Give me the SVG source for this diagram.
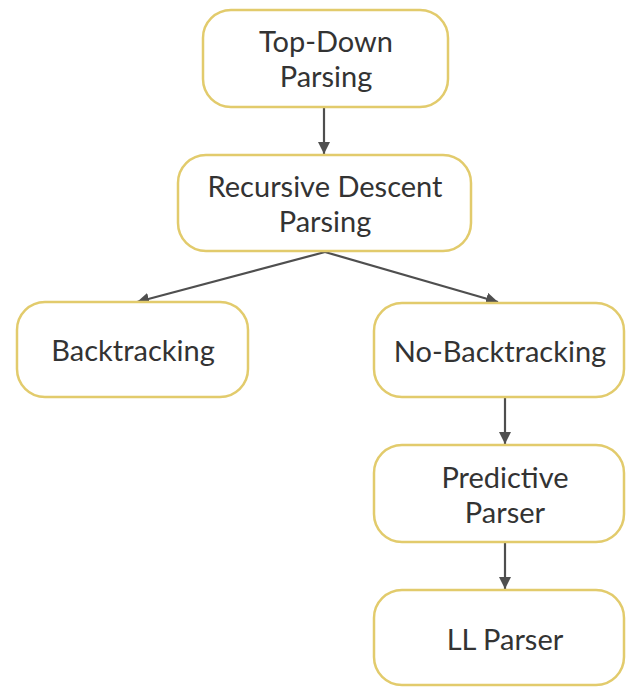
<svg xmlns="http://www.w3.org/2000/svg" width="626" height="687" viewBox="0 0 626 687">
<style>
.box{fill:#fff;stroke:#e2cb6c;stroke-width:2.5}
.lbl{font-family:Lato,"Open Sans","Liberation Sans",sans-serif;font-size:29px;fill:#333;text-anchor:middle}
.edge{stroke:#4f4f4f;stroke-width:2.2;fill:none}
</style>
<defs>
<marker id="ah" viewBox="0 0 10 10" refX="10" refY="5" markerWidth="5.5" markerHeight="5.5" orient="auto" markerUnits="strokeWidth">
<path d="M0,0 L10,5 L0,10 z" fill="#4f4f4f"/>
</marker>
</defs>
<rect width="626" height="687" fill="#fff"/>
<g id="connectors">
<line class="edge" x1="324" y1="107" x2="324" y2="154" marker-end="url(#ah)"/>
<line class="edge" x1="325" y1="252" x2="137" y2="302" marker-end="url(#ah)"/>
<line class="edge" x1="325" y1="252" x2="498" y2="302" marker-end="url(#ah)"/>
<line class="edge" x1="505" y1="397" x2="505" y2="444" marker-end="url(#ah)"/>
<line class="edge" x1="505" y1="542" x2="505" y2="589" marker-end="url(#ah)"/>
</g>
<g id="topdown">
<rect class="box" x="203" y="10" width="245" height="97" rx="28"/>
<text class="lbl" x="326" y="52">Top-Down</text>
<text class="lbl" x="326" y="87">Parsing</text>
</g>
<g id="recursive">
<rect class="box" x="178" y="155" width="293" height="96" rx="28"/>
<text class="lbl" x="325" y="197">Recursive Descent</text>
<text class="lbl" x="325" y="232">Parsing</text>
</g>
<g id="backtracking">
<rect class="box" x="17" y="302" width="231" height="95" rx="28"/>
<text class="lbl" x="133" y="361">Backtracking</text>
</g>
<g id="nobacktracking">
<rect class="box" x="374" y="303" width="250" height="94" rx="28"/>
<text class="lbl" x="500" y="362">No-Backtracking</text>
</g>
<g id="predictive">
<rect class="box" x="374" y="445" width="250" height="97" rx="28"/>
<text class="lbl" x="505" y="488">Predictive</text>
<text class="lbl" x="505" y="523">Parser</text>
</g>
<g id="llparser">
<rect class="box" x="374" y="590" width="250" height="95" rx="28"/>
<text class="lbl" x="505" y="650">LL Parser</text>
</g>
</svg>
